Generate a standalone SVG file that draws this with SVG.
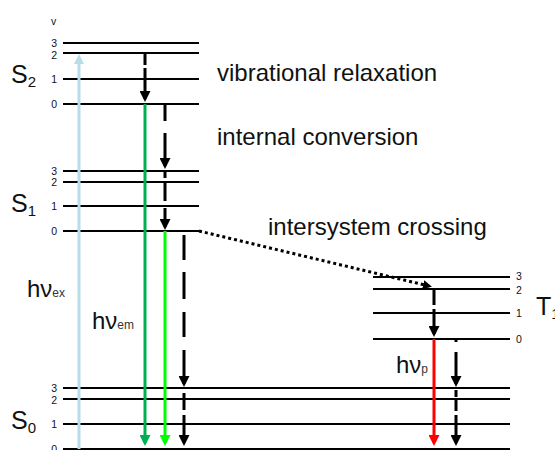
<svg xmlns="http://www.w3.org/2000/svg" width="555" height="450" viewBox="0 0 555 450">
<style>
.lvl{stroke:#000;stroke-width:2;fill:none}
.num{font-family:"Liberation Sans",Arial,sans-serif;font-size:10.5px;fill:#111122;text-anchor:end}
.numl{font-family:"Liberation Sans",Arial,sans-serif;font-size:10.5px;fill:#111122}
.st{font-family:"Liberation Sans",Arial,sans-serif;font-size:25px;fill:#111}
.sub{font-size:15px}
.lab{font-family:"Liberation Sans",Arial,sans-serif;font-size:24px;fill:#111}
.hv{font-family:"Liberation Sans",Arial,sans-serif;font-size:24px;fill:#111}
.hs{font-size:12px;fill:#333}
.dash{stroke:#000;stroke-width:3;fill:none}
.col{stroke-width:3;fill:none}
</style>
<defs>
<marker id="ab" markerUnits="userSpaceOnUse" markerWidth="11" markerHeight="11" refX="8" refY="5.5" orient="auto" viewBox="0 0 11 11"><path d="M0,0 L11,5.5 L0,11 z" fill="#000"/></marker>
<marker id="as" markerUnits="userSpaceOnUse" markerWidth="9" markerHeight="9" refX="6" refY="4.5" orient="auto" viewBox="0 0 9 9"><path d="M0,0 L9,4.5 L0,9 z" fill="#000"/></marker>
<marker id="alb" markerUnits="userSpaceOnUse" markerWidth="10" markerHeight="10" refX="7" refY="5" orient="auto" viewBox="0 0 10 10"><path d="M0,0 L10,5 L0,10 z" fill="#b7dee8"/></marker>
<marker id="adg" markerUnits="userSpaceOnUse" markerWidth="11" markerHeight="11" refX="8" refY="5.5" orient="auto" viewBox="0 0 11 11"><path d="M0,0 L11,5.5 L0,11 z" fill="#00b050"/></marker>
<marker id="ag" markerUnits="userSpaceOnUse" markerWidth="11" markerHeight="11" refX="8" refY="5.5" orient="auto" viewBox="0 0 11 11"><path d="M0,0 L11,5.5 L0,11 z" fill="#00ff00"/></marker>
<marker id="ar" markerUnits="userSpaceOnUse" markerWidth="11" markerHeight="11" refX="8" refY="5.5" orient="auto" viewBox="0 0 11 11"><path d="M0,0 L11,5.5 L0,11 z" fill="#ff0000"/></marker>
</defs>
<rect width="555" height="450" fill="#fff"/>

<g id="S2">
<text class="numl" x="51" y="25">v</text>
<line class="lvl" x1="63" y1="43" x2="199" y2="43"/>
<line class="lvl" x1="63" y1="53" x2="199" y2="53"/>
<line class="lvl" x1="63" y1="79" x2="199" y2="79"/>
<line class="lvl" x1="63" y1="104" x2="199" y2="104"/>
<text class="num" x="57" y="47">3</text>
<text class="num" x="57" y="59">2</text>
<text class="num" x="57" y="83">1</text>
<text class="num" x="57" y="108">0</text>
<text class="st" x="11" y="83">S<tspan class="sub" dy="4">2</tspan></text>
</g>

<g id="S1">
<line class="lvl" x1="63" y1="171" x2="199" y2="171"/>
<line class="lvl" x1="63" y1="182" x2="199" y2="182"/>
<line class="lvl" x1="63" y1="206" x2="199" y2="206"/>
<line class="lvl" x1="63" y1="231" x2="199" y2="231"/>
<text class="num" x="57" y="175">3</text>
<text class="num" x="57" y="186">2</text>
<text class="num" x="57" y="210">1</text>
<text class="num" x="57" y="235">0</text>
<text class="st" x="11" y="212">S<tspan class="sub" dy="4">1</tspan></text>
</g>

<g id="S0">
<line class="lvl" x1="63" y1="388" x2="510" y2="388"/>
<line class="lvl" x1="63" y1="399" x2="510" y2="399"/>
<line class="lvl" x1="63" y1="424" x2="510" y2="424"/>
<line class="lvl" x1="63" y1="449" x2="510" y2="449"/>
<text class="num" x="57" y="392">3</text>
<text class="num" x="57" y="404">2</text>
<text class="num" x="57" y="428">1</text>
<text class="num" x="57" y="453">0</text>
<text class="st" x="11" y="429">S<tspan class="sub" dy="4">0</tspan></text>
</g>

<g id="T1">
<line class="lvl" x1="373" y1="277" x2="510" y2="277"/>
<line class="lvl" x1="373" y1="289" x2="510" y2="289"/>
<line class="lvl" x1="373" y1="313" x2="510" y2="313"/>
<line class="lvl" x1="373" y1="339" x2="510" y2="339"/>
<text class="numl" x="516" y="280">3</text>
<text class="numl" x="516" y="294">2</text>
<text class="numl" x="516" y="317">1</text>
<text class="numl" x="516" y="343">0</text>
<text class="st" x="536" y="315">T<tspan class="sub" dy="4">1</tspan></text>
</g>

<g id="labels">
<text class="lab" x="217" y="81">vibrational relaxation</text>
<text class="lab" x="217" y="145">internal conversion</text>
<text class="lab" x="268" y="235">intersystem crossing</text>
<text class="hv" x="27" y="297">hν<tspan class="hs">ex</tspan></text>
<text class="hv" x="92" y="329">hν<tspan class="hs" fill="#4a2a6a">em</tspan></text>
<text class="hv" x="396" y="373">hν<tspan class="hs">p</tspan></text>
</g>

<g id="connectors">
<line class="col" stroke="#b7dee8" x1="79" y1="449" x2="79" y2="57" marker-end="url(#alb)"/>
<line class="col" stroke="#00b050" x1="145" y1="104" x2="145" y2="443" marker-end="url(#adg)"/>
<line class="col" stroke="#00ff00" x1="165" y1="231" x2="165" y2="443" marker-end="url(#ag)"/>
<line class="col" stroke="#ff0000" x1="434" y1="339" x2="434" y2="443" marker-end="url(#ar)"/>

<line class="dash" x1="145" y1="53" x2="145" y2="99" stroke-dasharray="12 3 60" marker-end="url(#ab)"/>
<line class="dash" x1="165" y1="104" x2="165" y2="166" stroke-dasharray="17 12 60" marker-end="url(#ab)"/>
<line class="dash" x1="165" y1="172" x2="165" y2="227" stroke-dasharray="6 5 18 7 60" marker-end="url(#ab)"/>
<line class="dash" x1="184" y1="235" x2="184" y2="384" stroke-dasharray="25 12 27 13 25 13 60" marker-end="url(#ab)"/>
<line class="dash" x1="184" y1="393" x2="184" y2="443" stroke-dasharray="17 5 60" marker-end="url(#ab)"/>
<line class="dash" x1="434" y1="290" x2="434" y2="334" stroke-dasharray="15 4 60" marker-end="url(#ab)"/>
<line class="dash" x1="456" y1="339" x2="456" y2="384" stroke-dasharray="3 10 60" marker-end="url(#ab)"/>
<line class="dash" x1="456" y1="390" x2="456" y2="443" stroke-dasharray="7 3 11 4 60" marker-end="url(#ab)"/>

<line x1="199" y1="231" x2="429" y2="286" stroke="#000" stroke-width="3" stroke-dasharray="3 3" marker-end="url(#as)"/>
</g>
</svg>
